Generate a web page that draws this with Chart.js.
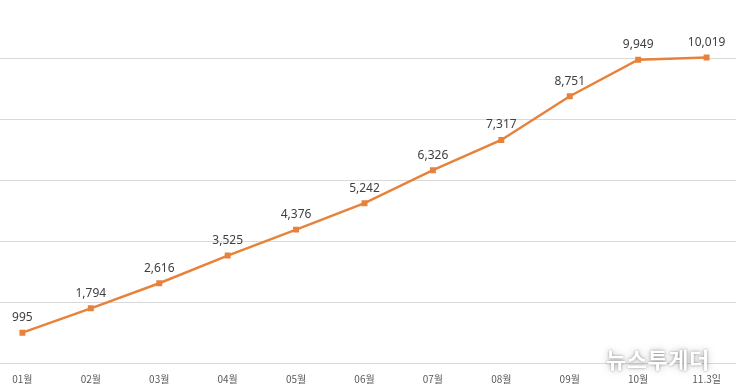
<!DOCTYPE html>
<html>
<head>
<meta charset="utf-8">
<script src="https://cdn.jsdelivr.net/npm/chart.js@4"></script>
<style>
  html, body { margin: 0; padding: 0; background: #fff; overflow: hidden; width: 736px; height: 392px; }
  #wrap { position: absolute; left: -16px; top: -7px; width: 761px; height: 399px; }
  #mark {
    position: absolute; left: 606px; top: 342px;
    font: bold 22px "Noto Sans CJK KR", sans-serif;
    color: #fff; letter-spacing: 0.5px;
    text-shadow: 0 0 3px rgba(0,0,0,0.4), 0 0 8px rgba(0,0,0,0.25);
  }
</style>
</head>
<body>
<div id="wrap"><canvas id="c"></canvas></div>
<div id="mark">뉴스투게더</div>
<script>
// 월별 누적 수치
const months = ["01월", "02월", "03월", "04월", "05월", "06월", "07월", "08월", "09월", "10월", "11.3일"];
const totals = [995, 1794, 2616, 3525, 4376, 5242, 6326, 7317, 8751, 9949, 10019];
const yTicks = [0, 2000, 4000, 6000, 8000, 10000];

const lineColor = "#E8823A";

// 점 위에 값 표시
const valueLabels = {
  id: "valueLabels",
  afterDatasetsDraw(chart) {
    const ctx = chart.ctx;
    const meta = chart.getDatasetMeta(0);
    ctx.save();
    ctx.font = '12px "Noto Sans", "Open Sans", sans-serif';
    ctx.fillStyle = "#404040";
    ctx.textAlign = "center";
    ctx.textBaseline = "middle";
    meta.data.forEach((pt, i) => {
      ctx.fillText(totals[i].toLocaleString("en-US"), pt.x, pt.y - 15);
    });
    ctx.restore();
  }
};

new Chart(document.getElementById("c").getContext("2d"), {
  type: "line",
  data: {
    labels: months,
    datasets: [{
      data: totals,
      borderColor: lineColor,
      backgroundColor: lineColor,
      borderWidth: 2.5,
      pointStyle: "rect",
      pointRadius: 4.2,
      pointBorderWidth: 0,
      fill: false,
      tension: 0
    }]
  },
  options: {
    responsive: true,
    maintainAspectRatio: false,
    animation: false,
    layout: { padding: 0 },
    plugins: {
      legend: { display: false },
      tooltip: { enabled: false }
    },
    scales: {
      x: {
        offset: true,
        grid: { display: false },
        border: { display: false },
        ticks: {
          padding: 2,
          color: "#595959",
          font: { size: 10, family: '"Noto Sans CJK KR", sans-serif' },
          maxRotation: 0,
          autoSkip: false
        },
        afterFit: s => { s.height = 29; }
      },
      y: {
        min: 0,
        max: 12000,
        afterBuildTicks: s => { s.ticks = yTicks.map(v => ({ value: v })); },
        grid: { color: "#D9D9D9", lineWidth: 1, drawTicks: false },
        border: { display: false },
        ticks: { display: false },
        afterFit: s => { s.width = 0; }
      }
    }
  },
  plugins: [valueLabels]
});
</script>
</body>
</html>
